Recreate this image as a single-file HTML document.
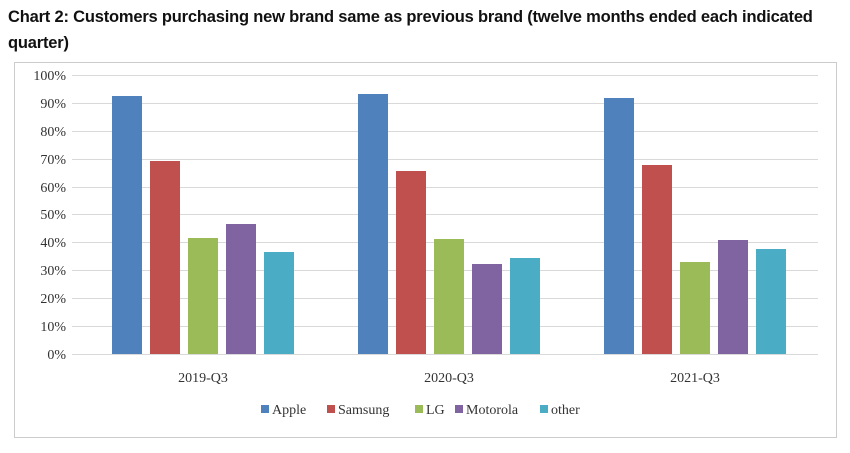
<!DOCTYPE html>
<html><head><meta charset="utf-8"><style>
body{margin:0;background:#fff;width:850px;height:453px;overflow:hidden}
.t{position:absolute;left:8px;top:4px;font:bold 16.5px "Liberation Sans",sans-serif;color:#111;line-height:26px;letter-spacing:-0.2px}
</style></head><body>
<div class="t">Chart 2: Customers purchasing new brand same as previous brand (twelve months ended each indicated<br>quarter)</div>
<svg width="850" height="453" style="position:absolute;left:0;top:0" font-family="Liberation Serif,serif" font-size="14" fill="#333">
<rect x="14.5" y="62.5" width="822" height="375" fill="none" stroke="#ccc"/>
<g stroke="#d9d9d9" stroke-width="1">
<line x1="72" x2="818" y1="75.5" y2="75.5"/><line x1="72" x2="818" y1="103.5" y2="103.5"/>
<line x1="72" x2="818" y1="131.5" y2="131.5"/><line x1="72" x2="818" y1="159.5" y2="159.5"/>
<line x1="72" x2="818" y1="187.5" y2="187.5"/><line x1="72" x2="818" y1="214.5" y2="214.5"/>
<line x1="72" x2="818" y1="242.5" y2="242.5"/><line x1="72" x2="818" y1="270.5" y2="270.5"/>
<line x1="72" x2="818" y1="298.5" y2="298.5"/><line x1="72" x2="818" y1="326.5" y2="326.5"/>
<line x1="72" x2="818" y1="354.5" y2="354.5"/>
</g>
<g text-anchor="end">
<text x="66" y="80">100%</text><text x="66" y="108">90%</text><text x="66" y="136">80%</text>
<text x="66" y="164">70%</text><text x="66" y="192">60%</text><text x="66" y="219">50%</text>
<text x="66" y="247">40%</text><text x="66" y="275">30%</text><text x="66" y="303">20%</text>
<text x="66" y="331">10%</text><text x="66" y="359">0%</text>
</g>
<g>
<rect x="112" y="96" width="30" height="258" fill="#4f81bd"/>
<rect x="150" y="161" width="30" height="193" fill="#c0504d"/>
<rect x="188" y="238" width="30" height="116" fill="#9bbb59"/>
<rect x="226" y="224" width="30" height="130" fill="#8064a2"/>
<rect x="264" y="252" width="30" height="102" fill="#4bacc6"/>
<rect x="358" y="94" width="30" height="260" fill="#4f81bd"/>
<rect x="396" y="171" width="30" height="183" fill="#c0504d"/>
<rect x="434" y="239" width="30" height="115" fill="#9bbb59"/>
<rect x="472" y="264" width="30" height="90" fill="#8064a2"/>
<rect x="510" y="258" width="30" height="96" fill="#4bacc6"/>
<rect x="604" y="98" width="30" height="256" fill="#4f81bd"/>
<rect x="642" y="165" width="30" height="189" fill="#c0504d"/>
<rect x="680" y="262" width="30" height="92" fill="#9bbb59"/>
<rect x="718" y="240" width="30" height="114" fill="#8064a2"/>
<rect x="756" y="249" width="30" height="105" fill="#4bacc6"/>
</g>
<g text-anchor="middle">
<text x="203" y="382">2019-Q3</text><text x="449" y="382">2020-Q3</text><text x="695" y="382">2021-Q3</text>
</g>
<g font-size="14">
<rect x="261" y="405" width="8" height="8" fill="#4f81bd"/><text x="272" y="414">Apple</text>
<rect x="327" y="405" width="8" height="8" fill="#c0504d"/><text x="338" y="414">Samsung</text>
<rect x="415" y="405" width="8" height="8" fill="#9bbb59"/><text x="426" y="414">LG</text>
<rect x="455" y="405" width="8" height="8" fill="#8064a2"/><text x="466" y="414">Motorola</text>
<rect x="540" y="405" width="8" height="8" fill="#4bacc6"/><text x="551" y="414">other</text>
</g>
</svg>
</body></html>
